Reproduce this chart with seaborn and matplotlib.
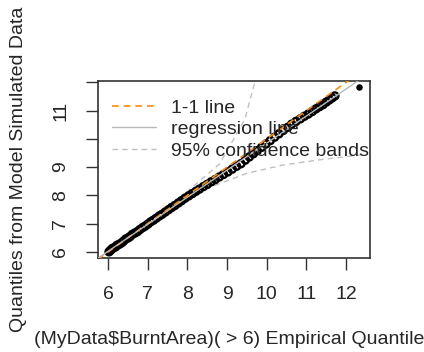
import numpy as np
import pandas as pd
import seaborn as sns
import matplotlib
matplotlib.use("Agg")
import matplotlib.pyplot as plt

# empirical vs simulated quantiles
emp_q = [6.02, 6.05, 6.09, 6.12, 6.18, 6.22, 6.27, 6.33, 6.38, 6.44,
         6.50, 6.55, 6.61, 6.68, 6.74, 6.80, 6.87, 6.93,
         7.00, 7.07, 7.14, 7.21, 7.29, 7.36, 7.44, 7.52, 7.60, 7.68,
         7.77, 7.85, 7.94, 8.03, 8.12, 8.21, 8.30, 8.40, 8.50, 8.60,
         8.70, 8.80, 8.91, 9.02, 9.13, 9.24, 9.35, 9.46, 9.56, 9.66,
         9.76, 9.87, 9.98, 10.09, 10.20, 10.31, 10.42, 10.53, 10.63, 10.74,
         10.85, 10.95, 11.05, 11.15, 11.24, 11.33, 11.42, 11.50, 11.58, 11.65,
         11.72, 12.34]
sim_q = [6.00, 6.04, 6.10, 6.13, 6.17, 6.23, 6.26, 6.31, 6.37, 6.45,
         6.49, 6.54, 6.62, 6.67, 6.72, 6.79, 6.86, 6.91,
         6.98, 7.06, 7.12, 7.19, 7.27, 7.33, 7.41, 7.49, 7.57, 7.64,
         7.73, 7.81, 7.90, 7.98, 8.06, 8.14, 8.22, 8.31, 8.39, 8.48,
         8.56, 8.65, 8.74, 8.83, 8.93, 9.03, 9.12, 9.25, 9.36, 9.47,
         9.58, 9.70, 9.82, 9.94, 10.06, 10.18, 10.30, 10.41, 10.52, 10.62,
         10.71, 10.80, 10.88, 10.97, 11.06, 11.14, 11.21, 11.30, 11.38, 11.45,
         11.52, 11.85]

# 95% confidence bands
upper_x = [6.0, 7.0, 7.8, 8.3, 8.8, 9.15, 9.45, 9.62, 9.72]
upper_y = [6.05, 7.05, 7.9, 8.5, 9.1, 9.95, 10.7, 11.6, 12.1]
lower_x = [6.0, 7.0, 7.8, 8.1, 8.6, 9.5, 10.4, 11.4, 12.5]
lower_y = [5.95, 6.95, 7.7, 7.95, 8.3, 8.78, 9.07, 9.27, 9.45]

# regression line
reg_intercept = 0.28
reg_slope = 0.957

xticks = [6, 7, 8, 9, 10, 11, 12]
yticks = [6, 7, 8, 9, 10, 11, 12]
ytick_labels = ["6", "7", "8", "9", "", "11", ""]

sns.set_style("white")
plt.rcParams['font.family'] = ['Liberation Sans', 'DejaVu Sans']

fig = plt.figure(figsize=(4.24, 3.52), dpi=100)
ax = fig.add_axes([0.231, 0.267, 0.642, 0.503])

xlim = (5.74, 12.61)
ylim = (5.78, 12.05)

df = pd.DataFrame({'emp': emp_q, 'sim': sim_q})
sns.scatterplot(data=df.iloc[:-1], x='emp', y='sim', ax=ax, marker='o', s=26,
                facecolor='none', edgecolor='black', linewidth=1.7, zorder=2)
# the lone top point reads as a filled dot
sns.scatterplot(data=df.iloc[-1:], x='emp', y='sim', ax=ax, marker='o', s=22,
                color='black', linewidth=0, zorder=2)

lx = np.array(xlim)
h1, = ax.plot(lx, lx, color='darkorange', ls=(0, (4, 3)), lw=1.2, zorder=3)
h2, = ax.plot(lx, reg_intercept + reg_slope * lx, color='#b8b8b8', lw=1.0, zorder=3)
h3, = ax.plot(upper_x, upper_y, color='#c0c0c0', ls=(0, (4, 3)), lw=1.0, zorder=1)
ax.plot(lower_x, lower_y, color='#c0c0c0', ls=(0, (4, 3)), lw=1.0, zorder=1)

ax.set_xlim(xlim)
ax.set_ylim(ylim)
ax.set_xticks(xticks)
ax.set_yticks(yticks)
ax.set_yticklabels(ytick_labels, rotation=90, va='center')
ax.tick_params(axis='both', direction='out', length=8.5, width=1.0,
               labelsize=14, color='#333333', pad=12, left=True, bottom=True)
for s in ax.spines.values():
    s.set_color('#333333')
    s.set_linewidth(1.2)

ax.set_xlabel("(MyData$BurntArea)( > 6) Empirical Quantiles", fontsize=14, labelpad=20)
ax.set_ylabel("Quantiles from Model Simulated Data", fontsize=14, labelpad=18)

ax.legend([h1, h2, h3], ["1-1 line", "regression line", "95% confidence bands"],
          loc='upper left', bbox_to_anchor=(0.0, 0.975), frameon=False,
          fontsize=14, handlelength=2.3, handletextpad=0.75, labelspacing=0.2,
          borderaxespad=0.3)

fig.savefig("out.png", dpi=100)
